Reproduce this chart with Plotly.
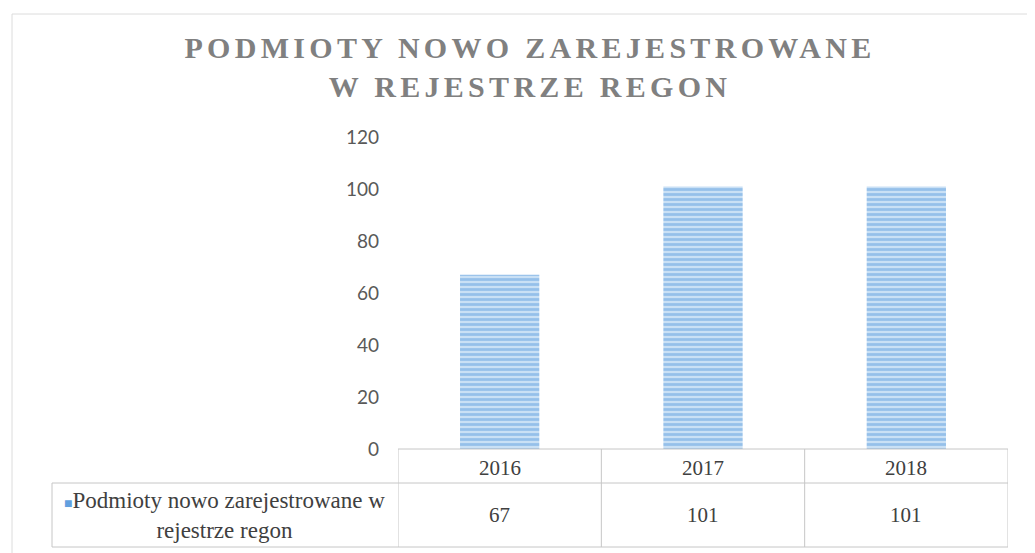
import plotly.graph_objects as go

years = ["2016", "2017", "2018"]
values = [67, 101, 101]
series_name = "Podmioty nowo zarejestrowane w rejestrze regon"
title_lines = ["PODMIOTY NOWO ZAREJESTROWANE", "W REJESTRZE REGON"]
y_ticks = [0, 20, 40, 60, 80, 100, 120]

grid_color = "#c6c6c6"
text_color = "#404040"
bar_fg = "#62a0df"
bar_bg = "#c9e0f5"

# page body adds an 8px offset; work in reference pixel coords minus 8
OFF = 8
W, H = 1035 - OFF, 553 - OFF
L = 398 - OFF
R = W - (1008 - OFF)
T = 137 - OFF
B = H - (449 - OFF)
plot_h = H - T - B
plot_w = W - L - R

def py(pix):
    return (H - B - (pix - OFF)) / plot_h

def px(pix):
    return ((pix - OFF) - L) / plot_w

fig = go.Figure()
fig.add_trace(go.Bar(
    x=years, y=values, name=series_name,
    marker=dict(
        color=bar_bg,
        line=dict(width=0),
        pattern=dict(shape="-", fgcolor=bar_fg, bgcolor=bar_bg, size=5, solidity=0.55),
    ),
    showlegend=False,
))

row1_bottom = py(483)
row2_bottom = py(547)
left_x = px(52)
n = len(years)
line_style = dict(color=grid_color, width=1)

shapes = []
# faint outer chart border (top/left visible in reference)
shapes.append(dict(type="rect", xref="paper", yref="paper", x0=px(12), x1=px(1045), y0=py(14), y1=py(562),
                   line=dict(color="#dcdcdc", width=1), layer="below"))
# table horizontal lines
shapes.append(dict(type="line", xref="x", yref="paper", x0=-0.5, x1=n - 0.5, y0=0, y1=0, line=line_style))
shapes.append(dict(type="line", xref="paper", yref="paper", x0=left_x, x1=1, y0=row1_bottom, y1=row1_bottom,
                   line=line_style))
shapes.append(dict(type="line", xref="paper", yref="paper", x0=left_x, x1=1, y0=row2_bottom, y1=row2_bottom,
                   line=line_style))
# table vertical lines
for i in range(n + 1):
    shapes.append(dict(type="line", xref="x", yref="paper", x0=i - 0.5, x1=i - 0.5, y0=0, y1=row2_bottom,
                       line=line_style))
shapes.append(dict(type="line", xref="paper", yref="paper", x0=left_x, x1=left_x, y0=row1_bottom, y1=row2_bottom,
                   line=line_style))

cell_font = dict(family="Liberation Serif", size=21, color=text_color)
annotations = []
for i, (yr, v) in enumerate(zip(years, values)):
    annotations.append(dict(x=i, xref="x", y=(0 + row1_bottom) / 2 - 0.008, yref="paper", text=yr,
                            showarrow=False, font=cell_font, xanchor="center", yanchor="middle"))
    annotations.append(dict(x=i, xref="x", y=(row1_bottom + row2_bottom) / 2, yref="paper", text=str(v),
                            showarrow=False, font=cell_font, xanchor="center", yanchor="middle"))
annotations.append(dict(
    x=left_x / 2, xref="paper", y=(row1_bottom + row2_bottom) / 2, yref="paper",
    text='<span style="color:%s;font-size:14px">■</span>Podmioty nowo zarejestrowane w<br>rejestrze regon' % bar_fg,
    showarrow=False, align="center", xanchor="center", yanchor="middle",
    font=dict(family="Liberation Serif", size=23, color=text_color),
))

title_text = "<br>".join('<span style="letter-spacing:4.3px">%s</span>' % t for t in title_lines)

fig.update_layout(
    width=W, height=H,
    margin=dict(l=L, r=R, t=T, b=B),
    paper_bgcolor="white", plot_bgcolor="white",
    title=dict(
        text="<b>" + title_text + "</b>",
        x=(530 - OFF) / W, xanchor="center", y=1 - 50 / H, yanchor="middle",
        font=dict(family="Liberation Serif", size=30, color="#808080"),
    ),
    bargap=0.61,
    xaxis=dict(type="category", range=[-0.5, n - 0.5], showticklabels=False, showgrid=False,
               zeroline=False, showline=False, ticks=""),
    yaxis=dict(range=[0, 120], tickvals=y_ticks, showgrid=False, zeroline=False, showline=False,
               ticks="", ticklabelstandoff=18,
               tickfont=dict(family="Lato", size=19, color="#595959")),
    shapes=shapes,
    annotations=annotations,
)

fig.write_html("out.html")
